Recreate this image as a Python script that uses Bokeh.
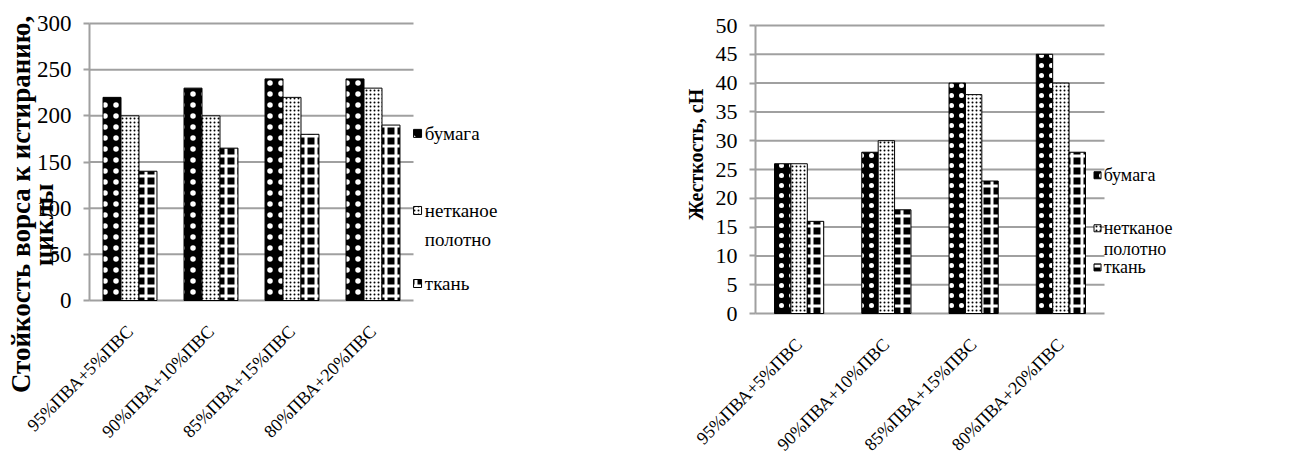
import numpy as np
from math import pi
from bokeh.plotting import figure
from bokeh.layouts import row
from bokeh.models import Range1d, FixedTicker, Label
from bokeh.core.properties import value
from bokeh.embed import file_html
from bokeh.resources import INLINE

# ---------------- data ----------------
categories = ["95%ПВА+5%ПВС", "90%ПВА+10%ПВС", "85%ПВА+15%ПВС", "80%ПВА+20%ПВС"]
series_names = ["бумага", "нетканое полотно", "ткань"]

abrasion_paper = [220, 230, 240, 240]
abrasion_nonwoven = [200, 200, 220, 230]
abrasion_fabric = [140, 165, 180, 190]
abrasion_ticks = [0, 50, 100, 150, 200, 250, 300]
abrasion_title = ["Стойкость ворса к истиранию,", "циклы"]

stiffness_paper = [26, 28, 40, 45]
stiffness_nonwoven = [26, 30, 38, 40]
stiffness_fabric = [16, 18, 23, 28]
stiffness_ticks = [0, 5, 10, 15, 20, 25, 30, 35, 40, 45, 50]
stiffness_title = ["Жесткость, сН"]

FONT = "Liberation Serif"
GRID = "#a0a0a0"


def styles(paper_scale):
    return [
        dict(fill_color="black", hatch_pattern="dot", hatch_color="white",
             hatch_scale=paper_scale, hatch_weight=0.3),
        dict(fill_color="white", hatch_pattern="dot", hatch_color="black",
             hatch_scale=4, hatch_weight=1.5),
        dict(fill_color="black", hatch_pattern="cross", hatch_color="white",
             hatch_scale=10, hatch_weight=3),
    ]


def make_chart(series_vals, ticks, width, height, axis_x, unit_px, zero_y, top_y,
               bar_w, tick_fs, xlab_fs, leg_fs, leg_lh, leg_x_sq, leg_x_tx, leg_y, sq,
               titles, title_fs, title_xs, title_ys, paper_scale):
    n = len(categories)
    # whole canvas is the frame; axes are pinned at fixed data locations
    x_start = 0.5 - axis_x / unit_px
    x_end = x_start + width / unit_px
    py = (zero_y - top_y) / (ticks[-1] - ticks[0])  # px per data unit
    y_start = ticks[0] - (height - zero_y) / py
    y_end = ticks[-1] + top_y / py
    p = figure(width=width, height=height, output_backend="svg", toolbar_location=None,
               x_range=Range1d(x_start, x_end), y_range=Range1d(y_start, y_end),
               min_border=0, background_fill_color="white", border_fill_color="white")
    p.outline_line_color = None
    p.xgrid.visible = False
    p.ygrid.visible = False

    # gridlines limited to plot area, and the vertical axis line
    p.segment(x0=[0.5] * len(ticks), x1=[n + 0.5] * len(ticks), y0=ticks, y1=ticks,
              line_color=GRID, line_width=2)
    p.segment(x0=[0.5], x1=[0.5], y0=[ticks[0]], y1=[ticks[-1]],
              line_color=GRID, line_width=2)

    st = styles(paper_scale)
    for j, vals in enumerate(series_vals):
        xs = np.arange(1, n + 1) + (j - 1) * bar_w
        p.vbar(x=xs, top=vals, bottom=0, width=bar_w, line_color="black",
               line_width=1, **st[j])

    # legend
    for j, name in enumerate(series_names):
        p.rect(x=[leg_x_sq], y=[leg_y[j]], width=sq, height=sq,
               width_units="screen", height_units="screen",
               line_color="black", line_width=1, **st[j])
    leg_labels = [s.replace(" ", "\n") for s in series_names]
    p.text(x=[leg_x_tx] * 3, y=[y + 0.57 * leg_fs / py for y in leg_y],
           text=leg_labels, text_font=value(FONT), text_font_size=f"{leg_fs}px",
           text_baseline="top", text_align="left", text_line_height=leg_lh,
           text_color="black")

    # axes
    xa = p.xaxis[0]
    xa.fixed_location = ticks[0]
    xa.ticker = FixedTicker(ticks=list(range(1, n + 1)))
    xa.major_label_overrides = {i + 1: c for i, c in enumerate(categories)}
    xa.major_label_orientation = pi / 4
    xa.axis_line_color = None
    xa.major_tick_line_color = None
    xa.minor_tick_line_color = None
    xa.major_label_text_font = FONT
    xa.major_label_text_font_size = f"{xlab_fs}px"
    xa.major_label_text_color = "black"
    xa.major_label_standoff = 22

    ya = p.yaxis[0]
    ya.fixed_location = 0.5
    ya.ticker = FixedTicker(ticks=ticks)
    ya.axis_line_color = None
    ya.major_tick_line_color = GRID
    ya.major_tick_line_width = 2
    ya.major_tick_out = 6
    ya.major_tick_in = 0
    ya.minor_tick_line_color = None
    ya.major_label_text_font = FONT
    ya.major_label_text_font_size = f"{tick_fs}px"
    ya.major_label_text_color = "black"
    ya.major_label_standoff = 12

    for t, tx, ty in zip(titles, title_xs, title_ys):
        p.add_layout(Label(x=tx, y=ty, x_units="screen", y_units="data", text=t,
                           angle=pi / 2, text_align="center", text_baseline="middle",
                           text_font=FONT, text_font_style="bold",
                           text_font_size=f"{title_fs}px", text_color="black"))
    return p


left = make_chart([abrasion_paper, abrasion_nonwoven, abrasion_fabric], abrasion_ticks,
                  width=646, height=464, axis_x=89, unit_px=81, zero_y=300, top_y=23,
                  bar_w=0.222, tick_fs=23, xlab_fs=18, leg_fs=19, leg_lh=1.4,
                  leg_x_sq=4.55, leg_x_tx=4.64, leg_y=[181, 97.5, 18.4], sq=8,
                  titles=abrasion_title, title_fs=27, title_xs=[20, 43],
                  title_ys=[104, 82], paper_scale=11)

right = make_chart([stiffness_paper, stiffness_nonwoven, stiffness_fabric], stiffness_ticks,
                   width=646, height=464, axis_x=109, unit_px=87.25, zero_y=313, top_y=25,
                   bar_w=0.188, tick_fs=22, xlab_fs=18, leg_fs=18, leg_lh=1.05,
                   leg_x_sq=4.42, leg_x_tx=4.49, leg_y=[24.0, 14.8, 8.0], sq=7,
                   titles=stiffness_title, title_fs=20, title_xs=[49],
                   title_ys=[27.6], paper_scale=10)

layout = row(left, right)
open("out.html", "w").write(file_html(layout, INLINE))
